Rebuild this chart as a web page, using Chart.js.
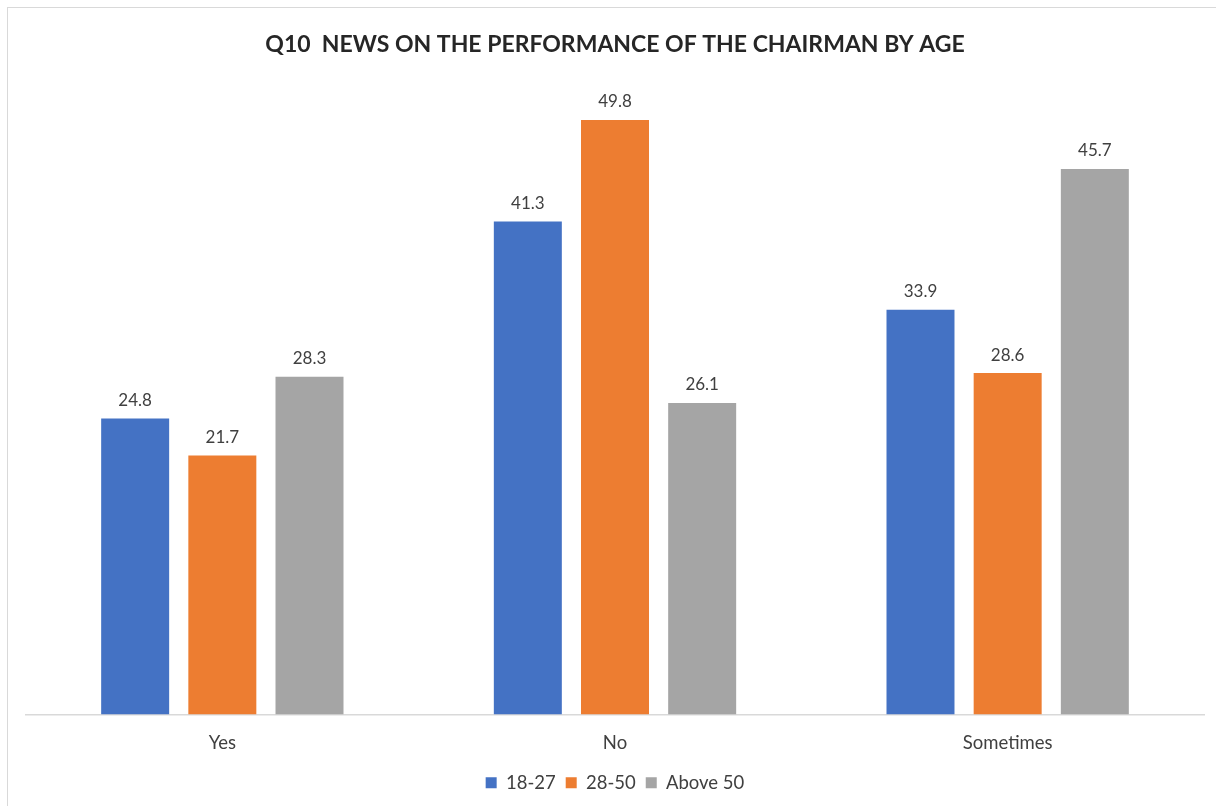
<!DOCTYPE html>
<html>
<head>
<meta charset="utf-8">
<script src="https://cdn.jsdelivr.net/npm/chart.js@4.4.1/dist/chart.umd.min.js"></script>
<style>
  html, body { margin: 0; padding: 0; background: #fff; overflow: hidden; }
  #frame { position: absolute; left: 7px; top: 7px; width: 1400px; height: 1000px; border: 1px solid #d9d9d9; }
  #wrap { position: absolute; left: 0; top: 0; width: 1216px; height: 806px; }
</style>
</head>
<body>
<div id="frame"></div>
<div id="wrap"><canvas id="barChart"></canvas></div>
<script>
  // Answers and age groups
  var categories = ['Yes', 'No', 'Sometimes'];
  var age1827 = [24.8, 41.3, 33.9];
  var age2850 = [21.7, 49.8, 28.6];
  var above50 = [28.3, 26.1, 45.7];

  var fontFamily = 'Lato, "Open Sans", sans-serif';

  // Draw the value above each bar
  var valueLabels = {
    id: 'valueLabels',
    afterDatasetsDraw(chart) {
      const ctx = chart.ctx;
      ctx.save();
      ctx.font = '17px ' + fontFamily;
      ctx.fillStyle = '#404040';
      ctx.textAlign = 'center';
      ctx.textBaseline = 'middle';
      chart.data.datasets.forEach((dataset, i) => {
        chart.getDatasetMeta(i).data.forEach((bar, j) => {
          ctx.fillText(dataset.data[j].toFixed(1), bar.x, bar.y - 18);
        });
      });
      ctx.restore();
    }
  };

  var data = {
    labels: categories,
    datasets: [
      { label: '18-27', data: age1827, backgroundColor: '#4472C4' },
      { label: '28-50', data: age2850, backgroundColor: '#ED7D31' },
      { label: 'Above 50', data: above50, backgroundColor: '#A5A5A5' }
    ]
  };

  var options = {
    responsive: true,
    maintainAspectRatio: false,
    animation: false,
    categoryPercentage: 0.666,
    barPercentage: 0.78,
    layout: { padding: { left: 26, right: 12, top: 31, bottom: 4 } },
    scales: {
      x: {
        grid: { display: false },
        border: { display: true, color: '#d9d9d9', width: 1.5 },
        ticks: { color: '#404040', font: { family: fontFamily, size: 18.5 }, padding: 9 },
        afterFit(scale) { scale.height = 49; }
      },
      y: { display: false, min: 0, max: 50 }
    },
    plugins: {
      title: {
        display: true,
        text: 'Q10  NEWS ON THE PERFORMANCE OF THE CHAIRMAN BY AGE',
        color: '#262626',
        font: { family: fontFamily, size: 23, weight: 'bold' },
        padding: { top: 0, bottom: 59 }
      },
      legend: {
        position: 'bottom',
        labels: {
          color: '#404040',
          boxWidth: 11,
          boxHeight: 11,
          padding: 10,
          font: { family: fontFamily, size: 18.5 }
        }
      },
      tooltip: { enabled: false }
    }
  };

  var ctx = document.getElementById('barChart').getContext('2d');
  var barChart = new Chart(ctx, { type: 'bar', data, options, plugins: [valueLabels] });
</script>
</body>
</html>
